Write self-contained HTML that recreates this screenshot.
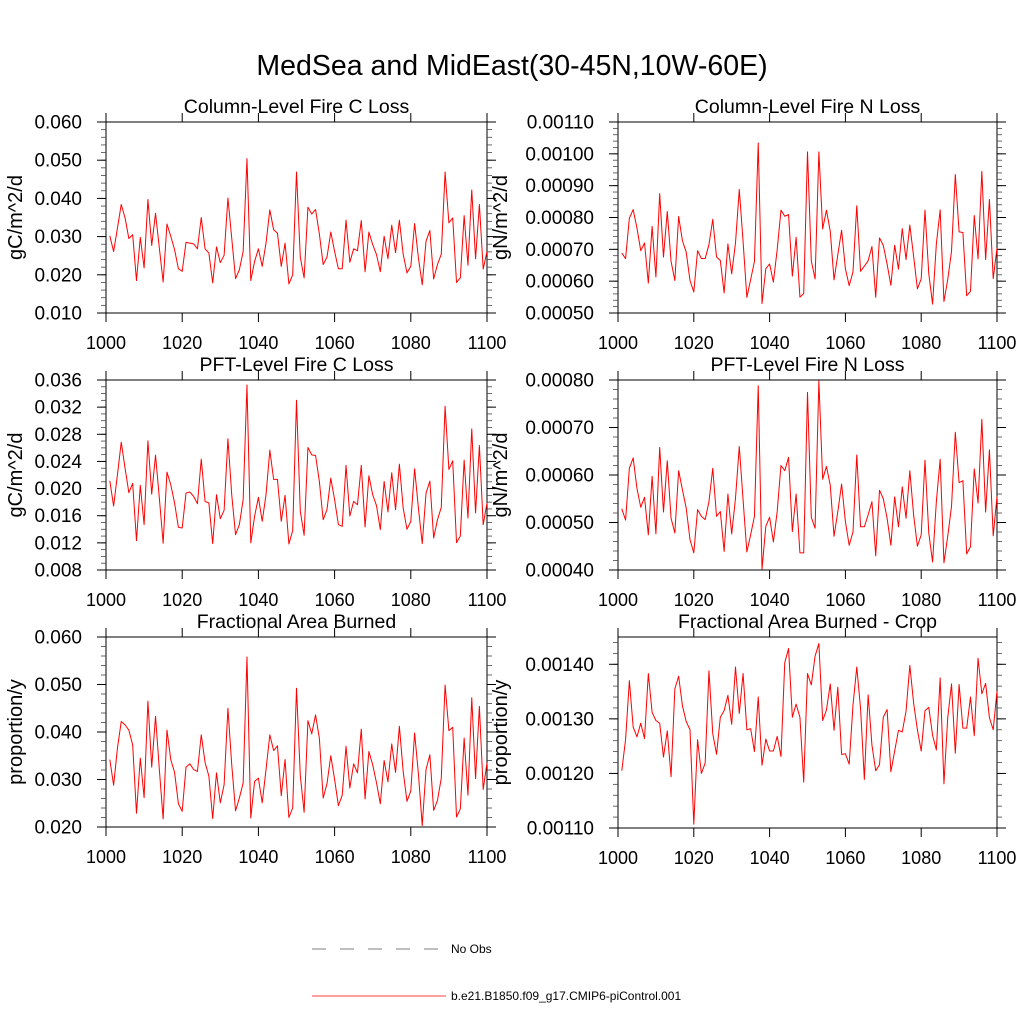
<!DOCTYPE html>
<html><head><meta charset="utf-8">
<style>
html,body{margin:0;padding:0;background:#fff;}
svg{display:block;font-family:"Liberation Sans",Arial,sans-serif;}
</style></head>
<body>
<svg id="chart" width="1024" height="1024" viewBox="0 0 1024 1024" xmlns="http://www.w3.org/2000/svg">
<rect width="1024" height="1024" fill="#fff"/>
<text x="512" y="75" font-size="28.5" text-anchor="middle">MedSea and MidEast(30-45N,10W-60E)</text>
<g>
<line x1="312" y1="949" x2="446" y2="949" stroke="#555" stroke-width="0.8" stroke-dasharray="14,14"/>
<text x="451" y="953" font-size="12">No Obs</text>
<line x1="312" y1="996" x2="446" y2="996" stroke="#f00" stroke-width="0.8"/>
<text x="451" y="1000" font-size="12">b.e21.B1850.f09_g17.CMIP6-piControl.001</text>
</g>
</svg>
<script>
const years = [];
for (let y = 1001; y <= 1100; y++) years.push(y);
const xTicks = [1000, 1020, 1040, 1060, 1080, 1100];

const colFireC = [0.0302,0.0261,0.0322,0.0384,0.0349,0.0295,0.0305,0.0185,0.0298,0.0218,0.0397,0.0277,0.0361,0.0270,0.0181,0.0333,0.0301,0.0266,0.0216,0.0209,0.0285,0.0283,0.0281,0.0268,0.0350,0.0268,0.0257,0.0179,0.0273,0.0232,0.0251,0.0401,0.0296,0.0190,0.0213,0.0261,0.0504,0.0185,0.0235,0.0268,0.0222,0.0283,0.0370,0.0318,0.0309,0.0222,0.0283,0.0176,0.0200,0.0469,0.0246,0.0192,0.0377,0.0359,0.0371,0.0307,0.0227,0.0246,0.0312,0.0261,0.0216,0.0216,0.0343,0.0233,0.0268,0.0263,0.0342,0.0208,0.0312,0.0279,0.0253,0.0208,0.0301,0.0242,0.0330,0.0258,0.0343,0.0254,0.0205,0.0222,0.0334,0.0244,0.0174,0.0288,0.0316,0.0189,0.0227,0.0254,0.0469,0.0336,0.0349,0.0180,0.0192,0.0355,0.0225,0.0422,0.0242,0.0384,0.0215,0.0261];
const colFireN = [68.8,67.1,79.8,82.5,76.7,69.6,72.0,59.4,77.2,61.3,87.5,67.6,81.9,66.2,60.2,80.3,72.7,69.1,60.2,56.6,69.6,67.1,67.1,71.5,79.4,67.6,66.5,56.3,71.7,62.3,72.0,88.8,72.5,54.9,60.5,66.2,103.4,53.0,63.9,65.4,59.7,69.9,82.3,80.4,80.9,61.6,73.8,55.0,56.1,100.6,66.4,60.7,100.6,76.4,82.3,75.7,60.4,68.3,76.0,63.9,58.6,62.9,83.7,63.1,64.7,66.4,70.9,54.9,73.6,71.2,65.4,58.7,71.3,63.8,76.5,66.8,77.6,67.8,57.6,60.7,82.3,62.3,52.8,71.7,82.4,53.6,60.5,69.4,93.5,75.5,75.3,55.4,56.8,80.6,67.0,94.5,66.8,85.7,60.8,70.4].map(v => v * 1e-5);
const pftFireC = [21.15,17.43,22.03,26.84,23.01,19.39,20.76,12.33,20.47,14.68,27.03,19.19,24.93,18.60,11.94,22.43,20.56,17.87,14.29,14.19,19.34,19.49,18.85,17.77,24.34,18.11,17.87,11.89,19.09,15.57,16.79,27.33,19.09,13.21,14.68,18.36,35.26,11.99,15.91,18.70,15.17,19.09,25.66,21.35,21.35,15.17,19.00,11.84,13.80,33.01,16.64,13.12,26.05,24.97,24.88,21.05,15.42,16.89,21.54,18.36,14.68,14.44,23.41,15.96,18.11,17.62,23.41,14.34,21.89,19.09,17.48,13.95,21.05,16.55,22.33,16.89,23.60,17.13,14.00,15.17,22.92,17.13,11.89,19.34,21.10,12.72,15.42,17.23,32.13,22.82,24.09,12.04,13.02,24.19,15.66,28.80,16.40,26.35,14.68,17.87].map(v => v * 1e-3);
const pftFireN = [52.9,50.5,61.4,63.6,57.2,53.2,55.3,47.4,59.7,47.6,65.8,52.2,63.0,50.9,47.8,60.9,56.9,53.0,46.4,43.6,52.7,51.3,50.6,54.4,61.4,51.3,52.3,43.9,56.0,47.6,55.1,66.0,54.8,43.8,47.4,51.3,78.8,40.2,49.2,51.1,45.9,52.3,62.0,60.9,63.7,48.1,56.0,43.6,43.6,77.4,51.1,48.8,79.8,59.1,61.8,57.9,47.1,52.3,58.1,50.2,45.2,48.0,64.2,49.1,49.1,51.6,54.4,43.0,56.8,55.0,50.9,45.2,55.4,49.1,57.5,50.9,60.9,51.6,45.0,47.4,63.1,47.8,41.7,54.4,63.3,41.5,47.1,53.4,69.0,58.4,58.8,43.4,44.9,61.3,54.1,71.7,52.2,65.3,47.2,55.5].map(v => v * 1e-5);
const areaBurned = [34.2,28.8,36.6,42.2,41.5,40.4,37.3,22.9,34.5,26.2,46.5,32.6,43.3,32.1,21.7,40.4,34.2,31.5,24.9,23.3,32.6,33.3,32.1,31.7,39.4,33.6,30.7,21.8,31.4,25.1,28.9,45.0,33.1,23.4,26.1,29.3,55.8,21.9,29.6,30.3,25.1,32.1,39.4,36.1,37.1,26.6,34.2,22.0,24.0,49.2,30.8,23.1,42.4,39.6,43.6,38.7,26.1,29.1,35.0,30.0,24.5,26.7,37.0,28.2,33.3,31.4,40.6,25.9,35.9,33.1,29.3,24.9,34.0,29.5,37.5,31.5,41.2,31.7,25.4,27.6,39.8,31.2,20.3,32.1,35.2,23.5,25.6,30.3,49.9,40.3,41.0,22.1,23.8,38.7,26.7,47.2,30.2,45.4,27.9,33.5].map(v => v * 1e-3);
const areaBurnedCrop = [120.5,126.2,137.0,128.5,126.7,129.2,126.4,138.3,131.2,129.7,129.2,123.0,127.8,119.4,135.5,137.8,132.4,129.5,128.0,110.7,126.2,120.0,121.9,138.8,127.3,123.5,130.3,131.5,134.3,129.0,139.5,131.0,138.3,128.0,128.2,124.0,134.0,121.5,126.3,124.1,124.1,126.8,123.1,140.3,142.9,130.3,132.7,130.3,118.4,138.3,136.2,141.5,143.8,129.7,131.6,136.4,127.9,135.8,123.5,123.6,121.7,132.5,139.5,131.9,118.9,134.4,125.2,120.5,121.6,130.3,131.7,120.3,124.1,127.9,127.6,131.4,139.8,132.9,128.0,124.1,131.5,132.1,127.0,124.3,137.5,118.1,130.2,136.4,123.7,136.3,128.3,128.3,134.0,126.9,141.1,134.6,136.5,130.2,128.0,135.1].map(v => v * 1e-5);

const ticks1 = ["0.010","0.020","0.030","0.040","0.050","0.060"];
const ticks2 = ["0.00050","0.00060","0.00070","0.00080","0.00090","0.00100","0.00110"];
const ticks3 = ["0.008","0.012","0.016","0.020","0.024","0.028","0.032","0.036"];
const ticks4 = ["0.00040","0.00050","0.00060","0.00070","0.00080"];
const ticks5 = ["0.020","0.030","0.040","0.050","0.060"];
const ticks6 = ["0.00110","0.00120","0.00130","0.00140"];

const NS = "http://www.w3.org/2000/svg";
const svg = document.getElementById("chart");
function mk(tag, attrs, parent) {
  const e = document.createElementNS(NS, tag);
  for (const k in attrs) e.setAttribute(k, attrs[k]);
  parent.appendChild(e);
  return e;
}

function panel(cfg) {
  const g = mk("g", {}, svg);
  
  
  const L = cfg.x0, R = cfg.x1, T = cfg.y0, B = cfg.y1;
  const xs = v => L + (v - 1000) / 100 * (R - L);
  const ys = v => B - (v - cfg.ymin) / (cfg.ymax - cfg.ymin) * (B - T);
  const frame = mk("rect", {x: L, y: T, width: R - L, height: B - T, fill: "none", stroke: "#000", "stroke-width": 1}, g);
  
  
  const nMinor = Math.round((cfg.ymax - cfg.ymin) / cfg.minor);
  for (let i = 0; i <= nMinor; i++) {
    const yy = ys(cfg.ymin + i * cfg.minor);
    mk("line", {x1: L - 5, y1: yy, x2: L, y2: yy, stroke: "#444", "stroke-width": 0.8}, g);
    mk("line", {x1: R, y1: yy, x2: R + 5, y2: yy, stroke: "#444", "stroke-width": 0.8}, g);
  }
  cfg.ticks.forEach(t => {
    const yy = ys(parseFloat(t));
    mk("line", {x1: L - 9, y1: yy, x2: L, y2: yy, stroke: "#000", "stroke-width": 1}, g);
    mk("line", {x1: R, y1: yy, x2: R + 9, y2: yy, stroke: "#000", "stroke-width": 1}, g);
    const tx = mk("text", {x: L - 24, y: yy + 6.5, "font-size": 19, "text-anchor": "end"}, g);
    
    
    tx.textContent = t;
  });
  xTicks.forEach(t => {
    const xx = xs(t);
    mk("line", {x1: xx, y1: B, x2: xx, y2: B + 9, stroke: "#000", "stroke-width": 1}, g);
    mk("line", {x1: xx, y1: T - 9, x2: xx, y2: T, stroke: "#000", "stroke-width": 1}, g);
    const tx = mk("text", {x: xx, y: B + 36, "font-size": 18, "text-anchor": "middle"}, g);
    
    
    tx.textContent = t;
  });
  const ti = mk("text", {x: (L + R) / 2, y: T - 9, "font-size": 19.5, "text-anchor": "middle"}, g);
  
  
  ti.textContent = cfg.title;
  const cy = (T + B) / 2;
  const yt = mk("text", {x: cfg.ytx, y: cy, "font-size": 20, "text-anchor": "middle", transform: "rotate(-90 " + cfg.ytx + " " + cy + ")"}, g);
  
  
  yt.textContent = cfg.ytitle;
  const pts = cfg.data.map((v, i) => xs(years[i]).toFixed(2) + "," + ys(v).toFixed(2)).join(" ");
  const pl = mk("polyline", {points: pts, fill: "none", stroke: "#f00", "stroke-width": 1, "stroke-linejoin": "round"}, g);
  
  
}

panel({name: "panel-column-fire-c", title: "Column-Level Fire C Loss", ytitle: "gC/m^2/d", x0: 106, x1: 487, y0: 122, y1: 313, ymin: 0.010, ymax: 0.060, minor: 0.002, ticks: ticks1, data: colFireC, ytx: 22});
panel({name: "panel-column-fire-n", title: "Column-Level Fire N Loss", ytitle: "gN/m^2/d", x0: 618, x1: 997, y0: 122, y1: 313, ymin: 0.0005, ymax: 0.0011, minor: 0.00002, ticks: ticks2, data: colFireN, ytx: 507});
panel({name: "panel-pft-fire-c", title: "PFT-Level Fire C Loss", ytitle: "gC/m^2/d", x0: 106, x1: 487, y0: 380, y1: 570, ymin: 0.008, ymax: 0.036, minor: 0.001, ticks: ticks3, data: pftFireC, ytx: 22});
panel({name: "panel-pft-fire-n", title: "PFT-Level Fire N Loss", ytitle: "gN/m^2/d", x0: 618, x1: 997, y0: 380, y1: 570, ymin: 0.0004, ymax: 0.0008, minor: 0.00002, ticks: ticks4, data: pftFireN, ytx: 507});
panel({name: "panel-area-burned", title: "Fractional Area Burned", ytitle: "proportion/y", x0: 106, x1: 487, y0: 637, y1: 827, ymin: 0.020, ymax: 0.060, minor: 0.002, ticks: ticks5, data: areaBurned, ytx: 22});
panel({name: "panel-area-burned-crop", title: "Fractional Area Burned - Crop", ytitle: "proportion/y", x0: 618, x1: 997, y0: 637, y1: 828, ymin: 0.0011, ymax: 0.00145, minor: 0.00002, ticks: ticks6, data: areaBurnedCrop, ytx: 507});
</script>
</body></html>
